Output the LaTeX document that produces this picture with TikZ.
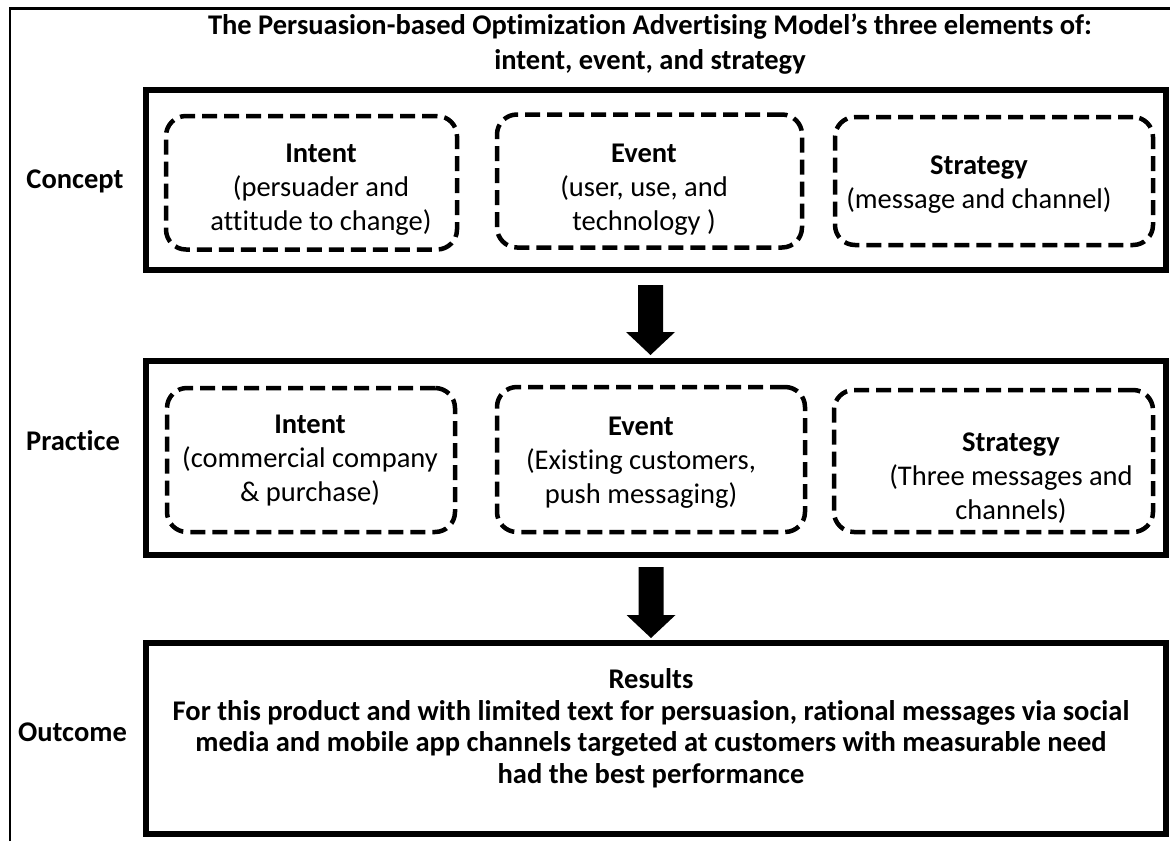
\documentclass[tikz,border=0pt]{standalone}
\usepackage{fontspec}
\setmainfont{Carlito}[Ligatures=NoCommon]
\begin{document}
\begin{tikzpicture}[x=1pt,y=-1pt,
  framebox/.style={draw, line width=6pt, minimum width=1020pt, inner sep=0pt},
  dashbox/.style={draw, line width=4.5pt, dash pattern=on 15pt off 7pt, rounded corners=20pt, inner sep=0pt},
  plaintext/.style={align=center, inner sep=0pt, font=\fontsize{28.5}{34}\selectfont},
  rowlabel/.style={inner sep=0pt, font=\bfseries\fontsize{28.5}{34}\selectfont},
  titletext/.style={align=center, inner sep=0pt, font=\bfseries\fontsize{28.5}{35}\selectfont},
  restext/.style={align=center, inner sep=0pt, font=\bfseries\fontsize{28.5}{31.5}\selectfont}
]
\useasboundingbox (0,0) rectangle (1170,841);
% outer frame (top and left edges)
\coordinate (fbl) at (10,841);
\coordinate (ftl) at (10,8.5);
\coordinate (ftr) at (1170,8.5);
\draw[line width=2.5pt] (fbl) -- (ftl) -- (ftr);

% title
\node[titletext] (title) at (650,44.5) {The Persuasion-based Optimization Advertising Model’s three elements of:\\intent, event, and strategy};

% row labels
\node[rowlabel] (lconcept) at (75,181) {Concept};
\node[rowlabel] (lpractice) at (73,441) {Practice};
\node[rowlabel] (loutcome) at (72.5,732) {Outcome};

% frame boxes
\node[framebox, minimum height=180pt] (concept) at (655.5,180) {};
\node[framebox, minimum height=194pt] (practice) at (655.5,458) {};
\node[framebox, minimum height=191pt] (results) at (655.5,738.5) {};

% concept dashed boxes
\node[dashbox, minimum width=291pt, minimum height=133.5pt] (cintent) at (311.5,182.75) {};
\node[dashbox, minimum width=305pt, minimum height=133pt] (cevent) at (649.5,181) {};
\node[dashbox, minimum width=318pt, minimum height=128pt] (cstrat) at (994,181) {};
\node[plaintext] (cintenttext) at (321,190) {\textbf{Intent}\\(persuader and\\attitude to change)};
\node[plaintext] (ceventtext) at (644,190) {\textbf{Event}\\(user, use, and\\technology )};
\node[plaintext] (cstrattext) at (979,184.5) {\textbf{Strategy}\\(message and channel)};

% practice dashed boxes
\node[dashbox, minimum width=288pt, minimum height=144pt] (pintent) at (311,460) {};
\node[dashbox, minimum width=308pt, minimum height=145pt] (pevent) at (651,459.5) {};
\node[dashbox, minimum width=319pt, minimum height=142pt] (pstrat) at (993.5,461) {};
\node[plaintext] (pintenttext) at (310,461) {\textbf{Intent}\\(commercial company\\\& purchase)};
\node[plaintext] (peventtext) at (641,463) {\textbf{Event}\\(Existing customers,\\push messaging)};
\node[plaintext] (pstrattext) at (1011,478) {\textbf{Strategy}\\(Three messages and\\channels)};

% results text
\node[restext] (restxt) at (651,728)
  {Results\\For this product and with limited text for persuasion, rational messages via social\\media and mobile app channels targeted at customers with measurable need\\had the best performance};

% block arrows
\coordinate (a1) at (650.5,285);
\coordinate (a2) at (651,567);
\fill[shift={(a1)}] (-12.5,0) -- (12.5,0) -- (12.5,47) -- (24.5,47) -- (0,70) -- (-24.5,47) -- (-12.5,47) -- cycle;
\fill[shift={(a2)}] (-12.5,0) -- (12.5,0) -- (12.5,48) -- (24.5,48) -- (0,71) -- (-24.5,48) -- (-12.5,48) -- cycle;
\end{tikzpicture}
\end{document}
